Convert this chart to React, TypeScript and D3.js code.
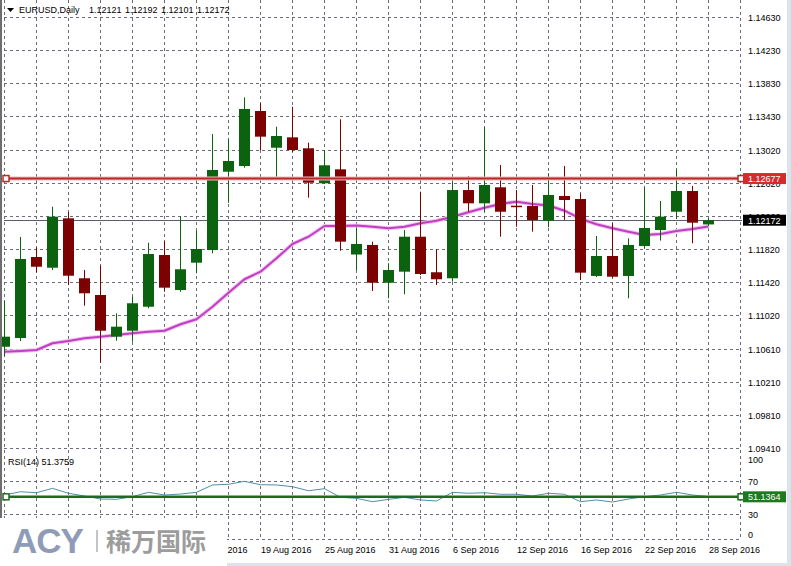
import React from 'react';
import * as d3 from 'd3';

const dates = [
  '2016-07-28','2016-07-29','2016-08-01','2016-08-02','2016-08-03','2016-08-04','2016-08-05','2016-08-08','2016-08-09','2016-08-10',
  '2016-08-11','2016-08-12','2016-08-15','2016-08-16','2016-08-17','2016-08-18','2016-08-19','2016-08-22','2016-08-23','2016-08-24',
  '2016-08-25','2016-08-26','2016-08-29','2016-08-30','2016-08-31','2016-09-01','2016-09-02','2016-09-05','2016-09-06','2016-09-07',
  '2016-09-08','2016-09-09','2016-09-12','2016-09-13','2016-09-14','2016-09-15','2016-09-16','2016-09-19','2016-09-20','2016-09-21',
  '2016-09-22','2016-09-23','2016-09-26','2016-09-27','2016-09-28'
];
const open = [
  1.10638,1.10744,1.11726,1.11596,1.12195,1.11468,1.11265,1.10760,1.10832,1.11123,
  1.11750,1.11326,1.11657,1.11811,1.12760,1.12829,1.13496,1.13051,1.13177,1.13044,
  1.12620,1.12789,1.11756,1.11872,1.11414,1.11548,1.11972,1.11541,1.11468,1.12538,
  1.12377,1.12571,1.12348,1.12344,1.12166,1.12466,1.12429,1.11496,1.11738,1.11496,
  1.11859,1.12053,1.12275,1.12526,1.12121
];
const high = [
  1.11193,1.11969,1.11841,1.12336,1.12272,1.11568,1.11621,1.11043,1.11245,1.11899,
  1.11920,1.12220,1.12041,1.13217,1.13153,1.13662,1.13590,1.13306,1.13548,1.13112,
  1.13023,1.13396,1.12084,1.11912,1.11650,1.12053,1.12518,1.11819,1.12639,1.12708,
  1.13299,1.12842,1.12538,1.12599,1.12741,1.12829,1.12498,1.11981,1.12135,1.11953,
  1.12571,1.12405,1.12789,1.12587,1.12192
];
const low = [
  1.10522,1.10708,1.11538,1.11568,1.11387,1.11136,1.10444,1.10711,1.10699,1.11104,
  1.11305,1.11305,1.11528,1.11771,1.12384,1.12809,1.13023,1.12700,1.12999,1.12445,
  1.12611,1.11802,1.11568,1.11314,1.11225,1.11274,1.11508,1.11387,1.11427,1.12275,
  1.12275,1.11972,1.12093,1.12033,1.12086,1.12175,1.11447,1.11484,1.11471,1.11225,
  1.11832,1.11924,1.12187,1.11892,1.12101
];
const close = [
  1.10760,1.11702,1.11608,1.12215,1.11499,1.11286,1.10832,1.10881,1.11165,1.11762,
  1.11354,1.11577,1.11823,1.12781,1.12890,1.13521,1.13185,1.13193,1.13023,1.12627,
  1.12838,1.11912,1.11884,1.11414,1.11568,1.11972,1.11520,1.11456,1.12538,1.12377,
  1.12599,1.12275,1.12338,1.12175,1.12478,1.12417,1.11536,1.11738,1.11487,1.11872,
  1.12078,1.12215,1.12526,1.12142,1.12172
];
const ma = [
  1.10578,1.10586,1.10598,1.10680,1.10708,1.10740,1.10760,1.10780,1.10801,1.10820,
  1.10832,1.10910,1.10971,1.11123,1.11293,1.11456,1.11548,1.11710,1.11884,1.11972,
  1.12102,1.12102,1.12108,1.12093,1.12074,1.12093,1.12135,1.12166,1.12215,1.12268,
  1.12324,1.12369,1.12397,1.12369,1.12351,1.12287,1.12190,1.12123,1.12074,1.12033,
  1.11993,1.12005,1.12041,1.12066,1.12096
];
const rsi = [
  53.3,57.3,56.1,61.4,55.4,52.1,48.5,48.1,51.3,56.6,
  53.3,54.5,56.6,65.5,66.3,69.9,65.8,65.5,63.4,58.5,
  61.0,50.5,49.3,45.2,48.1,50.5,47.3,46.1,56.6,55.4,
  56.1,54.2,54.2,52.1,55.4,54.2,45.2,47.3,44.8,48.5,
  51.3,53.3,56.6,53.3,51.4
];
const priceTicks = [1.14630,1.14230,1.13830,1.13430,1.13020,1.12620,1.12220,1.11820,1.11420,1.11020,1.10610,1.10210,1.09810,1.09410];
const rsiTicks = [100, 70, 30, 0];
const rsiGridLevels = [70, 30];
const resistanceLevel = 1.12677;
const rsiLevel = 51.1364;
const symbolTitle = 'EURUSD,Daily';
const headerValues = ['1.12121', '1.12192', '1.12101', '1.12172'];
const rsiTitle = 'RSI(14) 51.3759';

const W = 791;
const H = 566;
const FONT = '"Liberation Sans", Arial, sans-serif';
const GRID = '#6c6c7c';
const BULL = '#0b620f';
const BEAR = '#7c0202';

export default function App() {
  const n = dates.length;
  const x = d3.scaleLinear().domain([0, n - 1]).range([4.5, 708.5]);
  const y = d3.scaleLinear().domain([1.09410, 1.14630]).range([448, 17.5]);
  const yR = d3.scaleLinear().domain([0, 100]).range([539, 456.5]);
  const parse = d3.timeParse('%Y-%m-%d');
  const fmt = d3.timeFormat('%-d %b %Y');
  const px = (v: number) => Math.floor(v) + 0.5;

  const maLine = d3.line<number>().x((_, i) => x(i)).y((d) => y(d)).curve(d3.curveLinear);
  const rsiLine = d3.line<number>().x((_, i) => x(i)).y((d) => yR(d));

  const vGrid: number[] = [];
  for (let k = 0; k <= n + 1; k += 2) vGrid.push(px(x(k)));

  // date labels every 4 bars; those entirely covered by the logo panel are not drawn
  const dateLabels = dates
    .map((d, i) => ({ i, t: fmt(parse(d) as Date) }))
    .filter((d) => d.i % 4 === 0 && x(d.i) > 180);

  const axisX = 748;
  const boxX = 743;
  const boxW = 43;

  return (
    <svg width={W} height={H} style={{ position: 'fixed', left: 0, top: 0, background: '#fff' }} fontFamily={FONT}>
      <defs>
        <clipPath id="dateClip">
          <rect x={227} y={540} width={560} height={26} />
        </clipPath>
      </defs>
      <rect x={0} y={0} width={W} height={H} fill="#fff" />
      {/* vertical grid */}
      {vGrid.map((gx, i) => (
        <line key={'vg' + i} x1={gx} x2={gx} y1={0} y2={539} stroke={GRID} strokeDasharray="3,3" strokeWidth={1} />
      ))}
      {/* price horizontal grid */}
      {priceTicks.map((t, i) => (
        <line key={'hg' + i} x1={4} x2={742} y1={px(y(t))} y2={px(y(t))} stroke={GRID} strokeDasharray="3,3" strokeWidth={1} />
      ))}
      {/* rsi grid */}
      {rsiGridLevels.map((t, i) => (
        <line key={'rg' + i} x1={4} x2={742} y1={px(yR(t))} y2={px(yR(t))} stroke={GRID} strokeDasharray="3,3" />
      ))}
      <line x1={4} x2={742} y1={px(yR(0))} y2={px(yR(0))} stroke={GRID} strokeDasharray="3,3" />

      {/* current price line */}
      <line x1={4} x2={742} y1={px(y(close[n - 1]))} y2={px(y(close[n - 1]))} stroke="#5b5b6b" strokeWidth={1} />

      {/* MA */}
      <path d={maLine(ma) || ''} fill="none" stroke="#f3c2f0" strokeWidth={4} strokeLinejoin="round" />
      <path d={maLine(ma) || ''} fill="none" stroke="#c03ec4" strokeWidth={2} strokeLinejoin="round" />

      {/* candles */}
      {dates.map((_, i) => {
        const bull = close[i] >= open[i];
        const c = bull ? BULL : BEAR;
        const cx = px(x(i));
        const top = y(Math.max(open[i], close[i]));
        const bot = y(Math.min(open[i], close[i]));
        return (
          <g key={'c' + i}>
            <line x1={cx} x2={cx} y1={y(high[i])} y2={y(low[i])} stroke={c} strokeWidth={1} />
            <rect x={cx - 5.5} y={top} width={11} height={Math.max(1.5, bot - top)} fill={c} />
          </g>
        );
      })}

      {/* resistance line */}
      <line x1={5} x2={741} y1={y(resistanceLevel)} y2={y(resistanceLevel)} stroke="#f2b8b8" strokeWidth={4} />
      <line x1={5} x2={741} y1={y(resistanceLevel)} y2={y(resistanceLevel)} stroke="#b82a2a" strokeWidth={2} />
      <rect x={3} y={y(resistanceLevel) - 3} width={6} height={6} fill="#fff" stroke="#b82a2a" strokeWidth={1.5} />
      <rect x={738} y={y(resistanceLevel) - 3} width={6} height={6} fill="#fff" stroke="#b82a2a" strokeWidth={1.5} />

      {/* RSI */}
      <path d={rsiLine(rsi) || ''} fill="none" stroke="#4f8fa8" strokeWidth={1} />
      <line x1={5} x2={741} y1={yR(rsiLevel)} y2={yR(rsiLevel)} stroke="#1f6a1f" strokeWidth={2.5} />
      <rect x={3} y={yR(rsiLevel) - 3} width={6} height={6} fill="#fff" stroke="#1f6a1f" strokeWidth={1.5} />
      <rect x={738} y={yR(rsiLevel) - 3} width={6} height={6} fill="#fff" stroke="#1f6a1f" strokeWidth={1.5} />

      {/* left border */}
      <rect x={0} y={0} width={2} height={518} fill="#6e6e6e" />

      {/* header */}
      <polygon points="7,8 14,8 10.5,12" fill="#000" />
      <text x={19} y={13} fontSize={9} fill="#000">{symbolTitle}</text>
      {headerValues.map((v, i) => (
        <text key={'hv' + i} x={89 + i * 36} y={13} fontSize={9} fill="#000">{v}</text>
      ))}
      <text x={8} y={465} fontSize={9} fill="#000">{rsiTitle}</text>

      {/* price axis labels */}
      {priceTicks.map((t, i) => (
        <text key={'pl' + i} x={axisX} y={y(t) + 3.5} fontSize={9} fill="#000">{t.toFixed(5)}</text>
      ))}
      {rsiTicks.map((t, i) => {
        const ty = t === 100 ? yR(t) + 6 : t === 0 ? yR(t) - 1 : yR(t) + 3.5;
        return <text key={'rl' + i} x={axisX} y={ty} fontSize={9} fill="#000">{String(t)}</text>;
      })}

      {/* value boxes */}
      <rect x={boxX} y={y(resistanceLevel) - 5.5} width={boxW} height={11} fill="#d42b2b" />
      <text x={axisX} y={y(resistanceLevel) + 3.5} fontSize={9} fill="#fff">{resistanceLevel.toFixed(5)}</text>
      <rect x={boxX} y={y(close[n - 1]) - 5.5} width={boxW} height={11} fill="#000" />
      <text x={axisX} y={y(close[n - 1]) + 3.5} fontSize={9} fill="#fff">{close[n - 1].toFixed(5)}</text>
      <rect x={boxX} y={yR(rsiLevel) - 5.5} width={boxW} height={11} fill="#1d7a1d" />
      <text x={axisX} y={yR(rsiLevel) + 3.5} fontSize={9} fill="#fff">{rsiLevel.toFixed(4)}</text>

      {/* date labels */}
      <g clipPath="url(#dateClip)">
        {dateLabels.map((d) => (
          <text key={'dl' + d.i} x={px(x(d.i)) + 0.5} y={553} fontSize={9} fill="#000">{d.t}</text>
        ))}
      </g>

      {/* window borders */}
      <rect x={787} y={0} width={4} height={H} fill="#dde3ea" />
      <rect x={227} y={563} width={564} height={3} fill="#dde3ea" />

      {/* logo */}
      <rect x={0} y={518} width={227} height={48} fill="#fff" />
      <text x={12} y={553} fontSize={35} fontWeight="bold" fill="#8f9cb8" letterSpacing={-1}>ACY</text>
      <line x1={97} x2={97} y1={530} y2={552} stroke="#b0b0b0" strokeWidth={1.5} />
      <text x={106} y={551} fontSize={25} fontWeight="bold" fill="#9c9c9c" fontFamily='"Noto Sans CJK SC", sans-serif'>稀万国际</text>
    </svg>
  );
}
